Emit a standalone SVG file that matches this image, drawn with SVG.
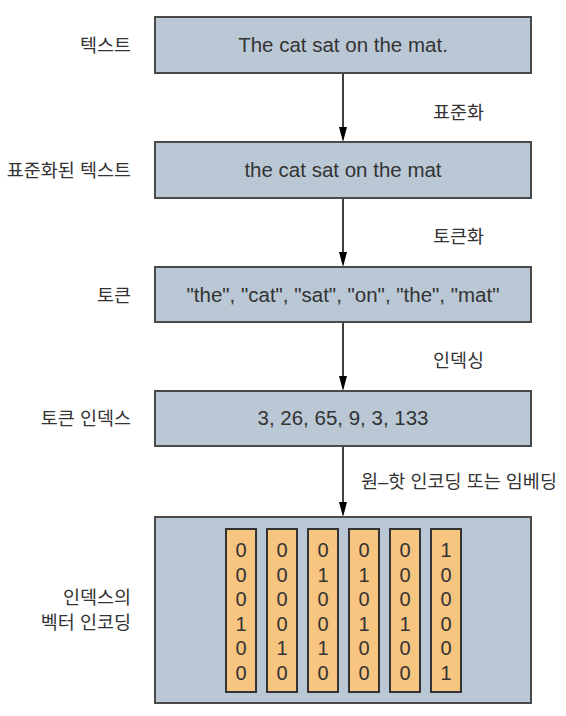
<svg xmlns="http://www.w3.org/2000/svg" width="566" height="716" viewBox="0 0 566 716">
<style>
.box{fill:#bac8d5;stroke:#4a4a4a;stroke-width:2}
.col{fill:#f7c580;stroke:#333;stroke-width:2}
.bt{font-family:"Liberation Sans",Arial,sans-serif;font-size:20.5px;fill:#333;text-anchor:middle}
.dg{font-family:"Liberation Sans",Arial,sans-serif;font-size:20px;fill:#333;text-anchor:middle}
.kl{font-family:"Liberation Sans","Noto Sans CJK KR",sans-serif;font-size:18.5px;fill:#333;text-anchor:end}
.kr{font-family:"Liberation Sans","Noto Sans CJK KR",sans-serif;font-size:18.5px;fill:#333;text-anchor:start}
.ar{stroke:#000;stroke-width:1.5;fill:none}
</style>
<rect width="566" height="716" fill="#fff"/>
<g id="connectors">
<line class="ar" x1="343" y1="73" x2="343" y2="128"/>
<path d="M339,127 L347,127 L343,142 Z" fill="#000"/>
<line class="ar" x1="343" y1="198" x2="343" y2="253"/>
<path d="M339,252 L347,252 L343,267 Z" fill="#000"/>
<line class="ar" x1="343" y1="322" x2="343" y2="377"/>
<path d="M339,376 L347,376 L343,391 Z" fill="#000"/>
<line class="ar" x1="343" y1="446" x2="343" y2="503"/>
<path d="M339,502 L347,502 L343,517 Z" fill="#000"/>
<text class="kr" x="433" y="119">표준화</text>
<text class="kr" x="433" y="243">토큰화</text>
<text class="kr" x="433" y="367">인덱싱</text>
<text class="kr" x="361" y="488">원–핫 인코딩 또는 임베딩</text>
</g>
<g id="n1">
<rect class="box" x="155" y="17" width="376" height="56"/>
<text class="bt" x="343" y="52">The cat sat on the mat.</text>
<text class="kl" x="131" y="52">텍스트</text>
</g>
<g id="n2">
<rect class="box" x="155" y="142" width="376" height="56"/>
<text class="bt" x="343" y="177">the cat sat on the mat</text>
<text class="kl" x="131" y="177">표준화된 텍스트</text>
</g>
<g id="n3">
<rect class="box" x="155" y="267" width="376" height="55"/>
<text class="bt" x="343" y="302">"the", "cat", "sat", "on", "the", "mat"</text>
<text class="kl" x="131" y="302">토큰</text>
</g>
<g id="n4">
<rect class="box" x="155" y="391" width="376" height="55"/>
<text class="bt" x="343" y="425">3, 26, 65, 9, 3, 133</text>
<text class="kl" x="131" y="425">토큰 인덱스</text>
</g>
<g id="n5">
<rect class="box" x="155" y="517" width="376" height="186"/>
<text class="kl" x="131" y="604">인덱스의</text>
<text class="kl" x="131" y="628.5">벡터 인코딩</text>
<rect class="col" x="226" y="529" width="30" height="163"/>
<rect class="col" x="267" y="529" width="30" height="163"/>
<rect class="col" x="308" y="529" width="30" height="163"/>
<rect class="col" x="349" y="529" width="30" height="163"/>
<rect class="col" x="390" y="529" width="30" height="163"/>
<rect class="col" x="431" y="529" width="30" height="163"/>
<text class="dg" x="241" y="557">0</text><text class="dg" x="241" y="581.5">0</text><text class="dg" x="241" y="606">0</text><text class="dg" x="241" y="630.5">1</text><text class="dg" x="241" y="655">0</text><text class="dg" x="241" y="679.5">0</text>
<text class="dg" x="282" y="557">0</text><text class="dg" x="282" y="581.5">0</text><text class="dg" x="282" y="606">0</text><text class="dg" x="282" y="630.5">0</text><text class="dg" x="282" y="655">1</text><text class="dg" x="282" y="679.5">0</text>
<text class="dg" x="323" y="557">0</text><text class="dg" x="323" y="581.5">1</text><text class="dg" x="323" y="606">0</text><text class="dg" x="323" y="630.5">0</text><text class="dg" x="323" y="655">1</text><text class="dg" x="323" y="679.5">0</text>
<text class="dg" x="364" y="557">0</text><text class="dg" x="364" y="581.5">1</text><text class="dg" x="364" y="606">0</text><text class="dg" x="364" y="630.5">1</text><text class="dg" x="364" y="655">0</text><text class="dg" x="364" y="679.5">0</text>
<text class="dg" x="405" y="557">0</text><text class="dg" x="405" y="581.5">0</text><text class="dg" x="405" y="606">0</text><text class="dg" x="405" y="630.5">1</text><text class="dg" x="405" y="655">0</text><text class="dg" x="405" y="679.5">0</text>
<text class="dg" x="446" y="557">1</text><text class="dg" x="446" y="581.5">0</text><text class="dg" x="446" y="606">0</text><text class="dg" x="446" y="630.5">0</text><text class="dg" x="446" y="655">0</text><text class="dg" x="446" y="679.5">1</text>
</g>
</svg>
